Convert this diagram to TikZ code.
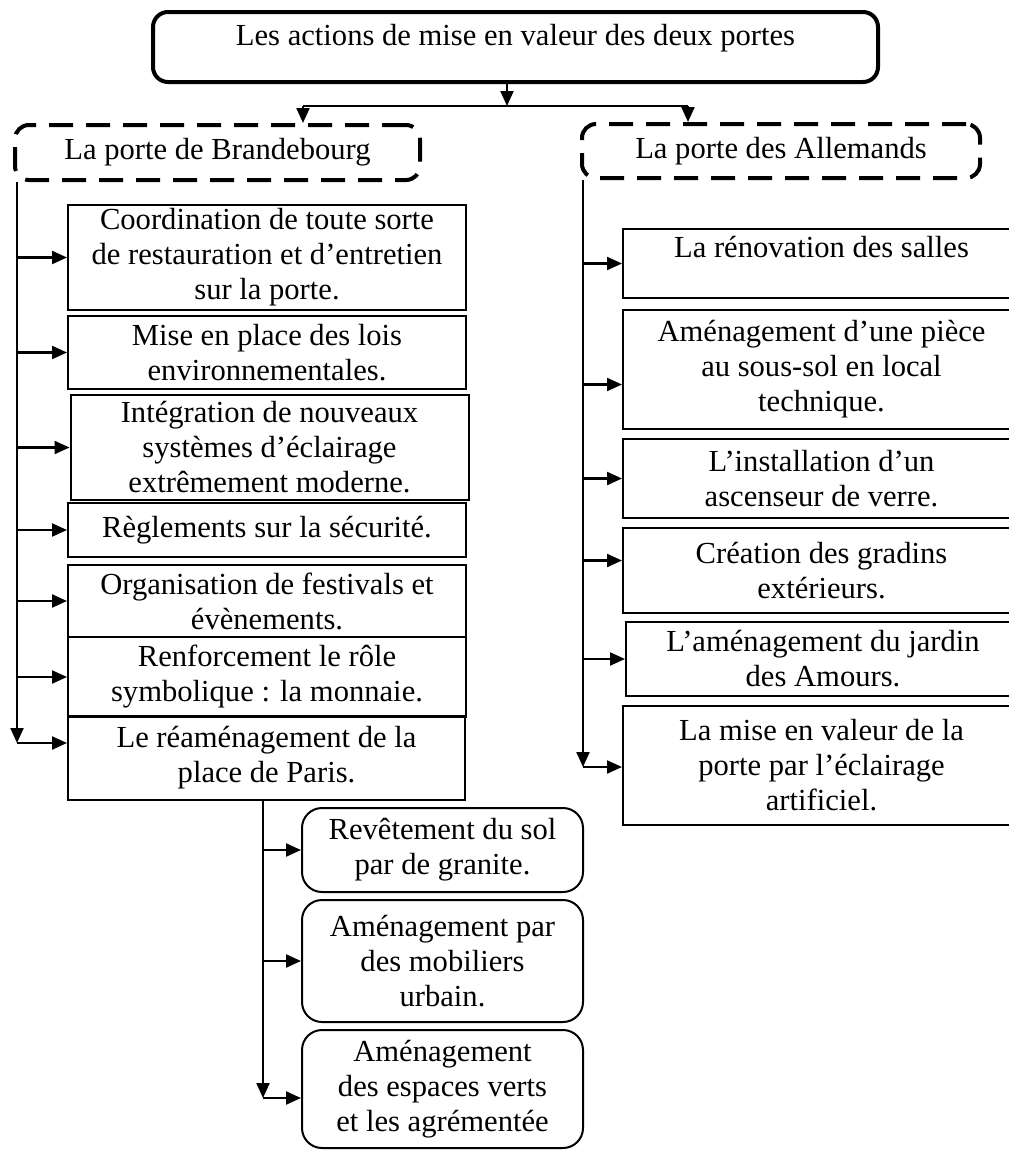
\documentclass[tikz,border=0pt]{standalone}
\usepackage{fontspec}
\setmainfont{Liberation Serif}
\usetikzlibrary{arrows.meta,positioning,calc}

\begin{document}
\begin{tikzpicture}[
        x=1pt, y=-1pt,
        every node/.style={font=\fontsize{30.6}{35}\selectfont},
        titre/.style={
            draw,
            line width=4pt,
            rounded corners=15pt,
            minimum width=725pt,
            minimum height=70pt,
            inner sep=2pt,
            text height=21pt,
            text depth=25pt
        },
        porte/.style={
            draw,
            line width=4pt,
            dash pattern=on 24pt off 13pt,
            rounded corners=14pt,
            inner sep=2pt,
            align=center
        },
        action/.style={
            draw,
            line width=2pt,
            inner sep=2pt,
            minimum width=398pt,
            align=center
        },
        sousaction/.style={
            draw,
            line width=2pt,
            rounded corners=20pt,
            inner sep=2pt,
            minimum width=281pt,
            align=center
        },
        fleche/.style={-{Triangle[length=15pt,width=13pt]}, line width=2.2pt},
        trait/.style={line width=2.2pt}
    ]

    \useasboundingbox (0,0) rectangle (1009,1151);
    \clip (0,0) rectangle (1009,1151);

    % Titre
    \node[titre] (titre) at (515.5,47) {Les actions de mise en valeur des deux portes};

    % Portes
    \node[porte, minimum width=405pt, minimum height=55pt] (brand) at (217.5,152.5) {La porte de Brandebourg};
    \node[porte, minimum width=398pt, minimum height=54pt] (allem) at (781,151) {La porte des Allemands};

    % Porte de Brandebourg
    \node[action, minimum height=105pt] (b1) at (267,257.5) {Coordination de toute sorte\\de restauration et d’entretien\\sur la porte.};
    \node[action, minimum height=73pt] (b2) at (267,352.5) {Mise en place des lois\\environnementales.};
    \node[action, minimum height=105pt] (b3) at (269.5,447.5) {Intégration de nouveaux\\systèmes d’éclairage\\extrêmement moderne.};
    \node[action, minimum height=54pt] (b4) at (267,530) {Règlements sur la sécurité.};
    \node[action, minimum height=72pt] (b5) at (267,601) {Organisation de festivals et\\évènements.};
    \node[action, minimum height=80pt] (b6) at (267,677) {Renforcement le rôle\\symbolique : la monnaie.};
    \node[action, minimum height=84pt, minimum width=397pt] (b7) at (266.5,758) {Le réaménagement de la\\place de Paris.};

    % Place de Paris
    \node[sousaction, minimum height=84pt] (s1) at (442.5,850) {Revêtement du sol\\par de granite.};
    \node[sousaction, minimum height=122pt] (s2) at (442.5,961) {Aménagement par\\des mobiliers\\urbain.};
    \node[sousaction, minimum height=118pt] (s3) at (442.5,1089) {Aménagement\\des espaces verts\\et les agrémentée};

    % Porte des Allemands
    \node[action, minimum width=397pt, minimum height=69pt, text height=21pt, text depth=34pt] (r1) at (821.5,263.5) {La rénovation des salles};
    \node[action, minimum width=397pt, minimum height=119pt] (r2) at (821.5,369.5) {Aménagement d’une pièce\\au sous-sol en local\\technique.};
    \node[action, minimum width=397pt, minimum height=79pt] (r3) at (821.5,478.5) {L’installation d’un\\ascenseur de verre.};
    \node[action, minimum width=397pt, minimum height=85pt] (r4) at (821.5,570.5) {Création des gradins\\extérieurs.};
    \node[action, minimum width=394pt, minimum height=74pt] (r5) at (823,659) {L’aménagement du jardin\\des Amours.};
    \node[action, minimum width=397pt, minimum height=119pt] (r6) at (821.5,765.5) {La mise en valeur de la\\porte par l’éclairage\\artificiel.};

    % Fleches du titre
    \coordinate (jn) at (507,106);
    \coordinate (jl) at (303,106);
    \coordinate (jr) at (688,106);
    \draw[fleche] (titre.south -| jn) -- (jn);
    \draw[trait] (jl) -- (jr);
    \draw[fleche] (jl) -- (jl |- brand.north);
    \draw[fleche] (jr) -- (jr |- allem.north);

    % Tronc gauche
    \coordinate (lb) at (17,743);
    \draw[fleche] (brand.south -| lb) -- (lb);
    \draw[fleche] (lb) -- (lb -| b7.west);
    \foreach \n in {b1,b2,b3,b4,b5,b6}
        \draw[fleche] (lb |- \n.west) -- (\n.west);

    % Tronc droit
    \coordinate (rb) at (583,767);
    \draw[fleche] (allem.south -| rb) -- (rb);
    \draw[fleche] (rb) -- (rb -| r6.west);
    \foreach \n in {r1,r3,r5}
        \draw[fleche] (rb |- \n.west) -- (\n.west);
    \draw[fleche] ([yshift=-15pt]r2.west -| rb) -- ([yshift=-15pt]r2.west);
    \draw[fleche] ([yshift=10pt]r4.west -| rb) -- ([yshift=10pt]r4.west);

    % Sous-actions
    \coordinate (sb) at (263,1098);
    \draw[fleche] (b7.south -| sb) -- (sb);
    \draw[fleche] (sb) -- (sb -| s3.west);
    \foreach \n in {s1,s2}
        \draw[fleche] (sb |- \n.west) -- (\n.west);

\end{tikzpicture}
\end{document}
